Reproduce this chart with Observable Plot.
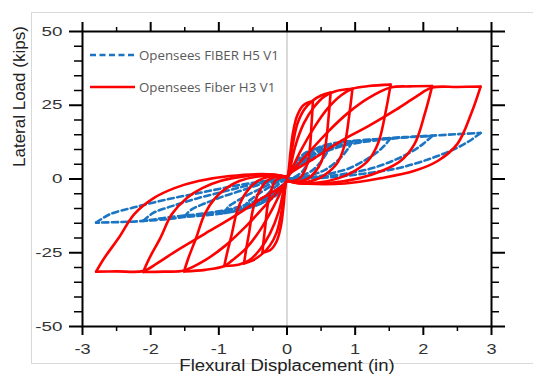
<!DOCTYPE html>
<html><head><meta charset="utf-8">
<script src="https://cdn.jsdelivr.net/npm/d3@7"></script>
<script src="https://cdn.jsdelivr.net/npm/@observablehq/plot@0.6"></script>
<style>
html,body{margin:0;padding:0;background:#fff;overflow:hidden;width:533px;height:374px;}
#wrap{position:relative;width:533px;height:374px;overflow:hidden;}
#border{position:absolute;left:31px;top:12px;width:600px;height:350px;border:1px solid #d8d8d8;}
#chart{position:absolute;left:0;top:0;}
#legend{position:absolute;left:0;top:0;}
</style></head><body>
<div id="wrap"><div id="border"></div><div id="chart"></div><div id="legend"></div></div>
<script>
// ---- data (displacement in, load kips) ----
const seriesNames = ["Opensees FIBER H5 V1", "Opensees Fiber H3 V1"];
const xMajorTicks = [-3, -2, -1, 0, 1, 2, 3];
const xMinorTicks = [-2.5, -1.5, -0.5, 0.5, 1.5, 2.5];
const yMajorTicks = [-50, -25, 0, 25, 50];
const yMinorTicks = [-45, -40, -35, -30, -20, -15, -10, -5, 5, 10, 15, 20, 30, 35, 40, 45];

// Opensees Fiber H3 V1 (red) – cycles
const redC1 = [[0,0],[0.02,2],[0.05,9],[0.09,16],[0.15,21.5],[0.24,25],[0.38,26.4],[0.36,18.5],[0.334,10],[0.296,5],[0.247,2.2],[0.19,0.3],[0.11,-0.6],[0.04,-0.8],[0,-0.5],[-0.02,-2],[-0.05,-9],[-0.09,-16],[-0.15,-21],[-0.24,-24],[-0.36,-25],[-0.345,-21.3],[-0.318,-15.9],[-0.288,-9.5],[-0.25,-5.1],[-0.212,-2.5],[-0.167,-0.5],[-0.1,0.4],[-0.04,0.7],[0,0.5]];
const redC2 = [[0.03,3],[0.08,11],[0.15,18.5],[0.25,23.5],[0.38,26.6],[0.5,28.3],[0.64,29.3],[0.608,20.5],[0.563,11.1],[0.5,5.6],[0.416,2.5],[0.32,0.3],[0.19,-0.8],[0.07,-1],[0,-0.5],[-0.03,-3],[-0.08,-11],[-0.15,-18],[-0.25,-22.5],[-0.36,-25.3],[-0.5,-27.6],[-0.63,-28.6],[-0.603,-24.4],[-0.556,-18.2],[-0.504,-10.8],[-0.438,-5.8],[-0.371,-2.8],[-0.292,-0.6],[-0.19,0.5],[-0.06,0.9],[0,0.5]];
const redC3 = [[0.04,3],[0.12,11],[0.25,19],[0.4,24.5],[0.55,28],[0.7,29.7],[0.96,30.6],[0.912,21.4],[0.845,11.6],[0.749,5.8],[0.624,2.6],[0.48,0.3],[0.29,-1],[0.1,-1.2],[0,-0.6],[-0.04,-3],[-0.12,-11],[-0.25,-18.5],[-0.4,-24],[-0.55,-27.5],[-0.7,-29],[-0.92,-29.5],[-0.88,-25.2],[-0.811,-18.8],[-0.736,-11.2],[-0.64,-6],[-0.542,-2.9],[-0.427,-0.6],[-0.28,0.7],[-0.09,1.1],[0,0.6]];
const redC4 = [[0.05,2.5],[0.2,9.5],[0.4,17.5],[0.6,24],[0.8,28.5],[0.96,30.6],[1.2,31.5],[1.52,32],[1.444,22.4],[1.338,12.2],[1.186,6.1],[0.988,2.7],[0.76,0.3],[0.46,-1.2],[0.15,-1.4],[0,-0.7],[-0.05,-2.5],[-0.2,-9.5],[-0.4,-17.5],[-0.6,-23.5],[-0.8,-27.5],[-0.92,-29.5],[-1.2,-30.8],[-1.51,-31.3],[-1.445,-26.7],[-1.332,-19.9],[-1.208,-11.9],[-1.051,-6.4],[-0.889,-3.1],[-0.7,-0.7],[-0.45,0.8],[-0.15,1.3],[0,0.7]];
const redC5 = [[0.05,2],[0.3,8.5],[0.6,16],[0.9,22.5],[1.2,27.5],[1.52,31],[1.8,31.4],[2.13,31.5],[2.02,22],[1.874,12],[1.66,6],[1.385,2.7],[1.065,0.3],[0.64,-1.3],[0.21,-1.5],[0,-0.8],[-0.05,-2],[-0.3,-8.5],[-0.6,-16],[-0.9,-22.5],[-1.2,-27.5],[-1.51,-31],[-1.8,-31.4],[-2.11,-31.5],[-2.02,-26.9],[-1.861,-20.1],[-1.688,-11.9],[-1.469,-6.4],[-1.243,-3.1],[-0.979,-0.7],[-0.63,0.9],[-0.21,1.5],[0,0.8]];
const redC6 = [[0.05,2],[0.4,7],[0.8,13],[1.2,18],[1.6,23.5],[1.9,28],[2.13,31],[2.5,31.2],[2.84,31.3],[2.7,22],[2.5,11.9],[2.21,6.1],[1.86,2.7],[1.38,0.3],[0.85,-1.5],[0.3,-1.6],[0,-0.8],[-0.05,-2],[-0.4,-7],[-0.8,-13],[-1.2,-18.5],[-1.6,-24],[-1.9,-28.5],[-2.11,-31.2],[-2.5,-31.3],[-2.8,-31.4],[-2.68,-26.8],[-2.47,-20],[-2.24,-11.9],[-1.95,-6.4],[-1.65,-3.1],[-1.3,-0.7],[-0.84,1],[-0.28,1.6],[0,0.8]];

// Opensees FIBER H5 V1 (blue dashed) – cycles
const blueC1 = [[0,0],[0.05,2.5],[0.12,5.5],[0.2,7.6],[0.28,9],[0.38,10],[0.357,8.2],[0.327,6.4],[0.281,4.4],[0.224,2.5],[0.171,1.5],[0.106,0.6],[0.046,0.1],[0.008,0],[-0.05,-2.2],[-0.12,-4.6],[-0.2,-6.3],[-0.28,-7.4],[-0.36,-8],[-0.335,-6.5],[-0.288,-5.2],[-0.223,-3.7],[-0.162,-2.5],[-0.101,-1.3],[-0.05,-0.5],[-0.011,0]];
const blueC2 = [[0.05,2.3],[0.15,5.5],[0.28,8.3],[0.4,10],[0.52,11.2],[0.64,11.8],[0.602,9.7],[0.55,7.6],[0.474,5.2],[0.378,3],[0.288,1.8],[0.179,0.7],[0.077,0.1],[0.013,0],[-0.05,-2],[-0.15,-4.7],[-0.28,-7],[-0.4,-8.5],[-0.52,-9.4],[-0.63,-10],[-0.586,-8.1],[-0.504,-6.5],[-0.391,-4.6],[-0.284,-3.1],[-0.176,-1.6],[-0.088,-0.6],[-0.019,0]];
const blueC3 = [[0.05,2.2],[0.18,5.7],[0.32,8.5],[0.48,10.6],[0.64,11.9],[0.8,12.5],[0.96,12.8],[0.902,10.5],[0.826,8.2],[0.71,5.6],[0.566,3.2],[0.432,1.9],[0.269,0.8],[0.115,0.1],[0.02,0],[-0.05,-2],[-0.18,-5],[-0.32,-7.4],[-0.48,-9.2],[-0.63,-10.2],[-0.78,-11],[-0.92,-11.5],[-0.856,-9.3],[-0.736,-7.5],[-0.57,-5.3],[-0.414,-3.6],[-0.258,-1.8],[-0.129,-0.7],[-0.028,0]];
const blueC4 = [[0.05,2],[0.2,5.6],[0.38,8.6],[0.6,11],[0.82,12.4],[0.96,12.9],[1.24,13.4],[1.52,13.8],[1.429,11.3],[1.307,8.8],[1.125,6.1],[0.897,3.5],[0.684,2.1],[0.426,0.8],[0.182,0.1],[0.03,0],[-0.05,-1.9],[-0.2,-5],[-0.38,-7.6],[-0.6,-9.7],[-0.82,-11],[-0.92,-11.6],[-1.2,-12.3],[-1.51,-12.8],[-1.404,-10.4],[-1.208,-8.3],[-0.936,-5.9],[-0.68,-4],[-0.423,-2],[-0.211,-0.8],[-0.045,0]];
const blueC5 = [[0.05,2],[0.22,5.6],[0.45,8.8],[0.75,11.2],[1.1,12.8],[1.52,13.9],[1.82,14.3],[2.13,14.6],[2.002,12],[1.832,9.3],[1.576,6.4],[1.257,3.7],[0.959,2.2],[0.596,0.9],[0.256,0.15],[0.04,0],[-0.05,-1.8],[-0.22,-5],[-0.45,-7.8],[-0.75,-10],[-1.1,-11.5],[-1.51,-12.9],[-1.8,-13.7],[-2.11,-14.2],[-1.962,-11.5],[-1.688,-9.2],[-1.308,-6.5],[-0.95,-4.4],[-0.591,-2.3],[-0.295,-0.9],[-0.063,0]];
const blueC6 = [[0.05,2],[0.25,5.5],[0.5,8.6],[0.85,11.4],[1.3,13.1],[1.75,14.1],[2.13,14.7],[2.5,15.2],[2.84,15.6],[2.67,12.8],[2.442,10],[2.102,6.9],[1.676,3.9],[1.278,2.3],[0.795,0.9],[0.341,0.15],[0.05,0],[-0.05,-1.8],[-0.25,-5],[-0.5,-7.8],[-0.85,-10.3],[-1.3,-11.9],[-1.75,-13],[-2.11,-14.2],[-2.45,-14.6],[-2.8,-14.8],[-2.604,-12],[-2.24,-9.6],[-1.736,-6.8],[-1.26,-4.6],[-0.784,-2.4],[-0.392,-0.9],[-0.084,0]];

const blueColor = "#1b75c2";
const redColor = "#ff0000";

// split a load path into branches at each displacement reversal (keeps peaks sharp)
function branches(path) {
  const out = [];
  let id = 0, dir = 0;
  for (let i = 0; i < path.length; i++) {
    if (i > 0) {
      const dx = path[i][0] - path[i - 1][0];
      const s = Math.sign(dx);
      if (s !== 0 && dir !== 0 && s !== dir) {
        id++;
        out.push({x: path[i - 1][0], y: path[i - 1][1], b: id});
      }
      if (s !== 0) dir = s;
    }
    out.push({x: path[i][0], y: path[i][1], b: id});
  }
  return out;
}
const redRows = branches([].concat(redC1, redC2, redC3, redC4, redC5, redC6));
const blueRows = branches([].concat(blueC1, blueC2, blueC3, blueC4, blueC5, blueC6));

const blank = () => "";
const chart = Plot.plot({
  width: 533,
  height: 374,
  marginLeft: 82,
  marginRight: 42,
  marginTop: 31,
  marginBottom: 48,
  x: {domain: [-3, 3]},
  y: {domain: [-50, 50]},
  style: {background: "transparent", fontFamily: "Liberation Sans, Arial, sans-serif", fontSize: "13px", color: "#222", overflow: "visible"},
  marks: [
    Plot.ruleX([0], {stroke: "#b5b5b5", strokeWidth: 1}),
    Plot.line(blueRows, {x: "x", y: "y", z: "b", stroke: blueColor, strokeWidth: 2.6, strokeDasharray: "6,3.5", curve: "catmull-rom"}),
    Plot.line(redRows, {x: "x", y: "y", z: "b", stroke: redColor, strokeWidth: 2.6, curve: "catmull-rom", strokeLinejoin: "round"}),
    Plot.frame({stroke: "black", strokeWidth: 2}),
    Plot.axisX(xMinorTicks, {anchor: "bottom", tickSize: 5, strokeWidth: 1.5, stroke: "black", tickFormat: blank, label: null}),
    Plot.axisX(xMajorTicks, {anchor: "bottom", tickSize: 9, strokeWidth: 2, stroke: "black", tickPadding: 9, tickFormat: d => String(d), fontSize: 14, fill: "#333", label: null}),
    Plot.axisX(xMinorTicks, {anchor: "top", tickSize: 5, strokeWidth: 1.5, stroke: "black", tickFormat: blank, label: null}),
    Plot.axisX(xMajorTicks, {anchor: "top", tickSize: 10, strokeWidth: 2, stroke: "black", tickFormat: blank, label: null}),
    Plot.axisY(yMinorTicks, {anchor: "left", tickSize: 8, strokeWidth: 1.5, stroke: "black", tickFormat: blank, label: null}),
    Plot.axisY(yMajorTicks, {anchor: "left", tickSize: 13, strokeWidth: 2, stroke: "black", tickPadding: 7, tickFormat: d => String(d), fontSize: 13, fill: "#333", label: null}),
    Plot.axisY(yMinorTicks, {anchor: "right", tickSize: 7, strokeWidth: 1.5, stroke: "black", tickFormat: blank, label: null}),
    Plot.axisY(yMajorTicks, {anchor: "right", tickSize: 13, strokeWidth: 2, stroke: "black", tickFormat: blank, label: null}),
    Plot.text(["Lateral Load (kips)"], {frameAnchor: "left", text: d => d, rotate: -90, dx: -63, dy: -12, fontSize: 17, fill: "#222"}),
    Plot.text(["Flexural Displacement (in)"], {frameAnchor: "bottom", text: d => d, dy: 44.5, fontSize: 16, fill: "#222"})
  ]
});
document.getElementById("chart").appendChild(chart);

// horizontally widened tick labels, as in the reference figure
const svg = d3.select(chart);
svg.selectAll('g[aria-label="y-axis tick label"] text').each(function () {
  const t = this.getAttribute("transform") || "";
  this.setAttribute("transform", t + " scale(1.45,1)");
});
svg.selectAll('g[aria-label="x-axis tick label"] text').each(function () {
  const t = this.getAttribute("transform") || "";
  this.setAttribute("transform", t + " scale(1.3,1)");
});
svg.selectAll("text").each(function () {
  if (this.textContent === "Flexural Displacement (in)") {
    const t = this.getAttribute("transform") || "";
    this.setAttribute("transform", t + " scale(1.16,1)");
  }
});

// legend (inside the plot frame, top-left)
const leg = d3.select("#legend").append("svg").attr("width", 533).attr("height", 120)
  .style("font-family", "Open Sans, Liberation Sans, sans-serif").style("font-size", "13.3px");
const legItems = [
  {name: seriesNames[0], color: blueColor, dash: "6,3.5", y: 55},
  {name: seriesNames[1], color: redColor, dash: null, y: 87}
];
for (const it of legItems) {
  leg.append("line").attr("x1", 90).attr("x2", 135).attr("y1", it.y).attr("y2", it.y)
    .attr("stroke", it.color).attr("stroke-width", 2.6).attr("stroke-dasharray", it.dash);
  leg.append("text").attr("x", 139).attr("y", it.y).attr("dy", "0.35em").attr("fill", "#595959").text(it.name);
}
</script>
</body></html>
